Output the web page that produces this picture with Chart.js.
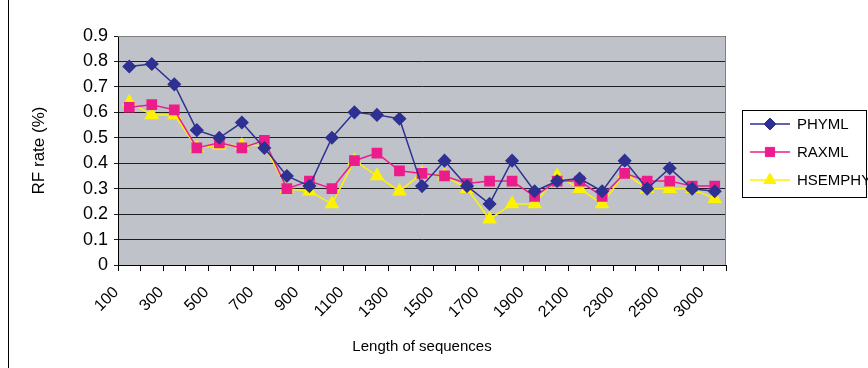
<!DOCTYPE html>
<html>
<head>
<meta charset="utf-8">
<script src="https://cdn.jsdelivr.net/npm/chart.js@4"></script>
<style>
  html, body { margin: 0; padding: 0; background: #fff; }
  #wrap { width: 868px; height: 368px; }
</style>
</head>
<body>
<div id="wrap"><canvas id="rfChart" width="868" height="368"></canvas></div>
<script>
// sequence lengths (x categories); only every other one is labelled
const lengths = ['100', '200', '300', '400', '500', '600', '700', '800', '900', '1000',
  '1100', '1200', '1300', '1400', '1500', '1600', '1700', '1800', '1900', '2000',
  '2100', '2200', '2300', '2400', '2500', '2750', '3000'];
const phyml = [0.78, 0.79, 0.71, 0.53, 0.50, 0.56, 0.46, 0.35, 0.31, 0.50, 0.60, 0.59, 0.575, 0.31,
  0.41, 0.31, 0.24, 0.41, 0.29, 0.33, 0.34, 0.29, 0.41, 0.30, 0.38, 0.30, 0.29];
const raxml = [0.62, 0.63, 0.61, 0.46, 0.48, 0.46, 0.49, 0.30, 0.33, 0.30, 0.41, 0.44, 0.37, 0.36,
  0.35, 0.32, 0.33, 0.33, 0.27, 0.33, 0.33, 0.27, 0.36, 0.33, 0.33, 0.31, 0.31];
const hsemphy = [0.64, 0.59, 0.59, 0.46, 0.47, 0.47, 0.47, 0.30, 0.29, 0.24, 0.41, 0.35, 0.29, 0.36,
  0.35, 0.30, 0.18, 0.24, 0.24, 0.35, 0.30, 0.24, 0.36, 0.30, 0.30, 0.30, 0.26];
const yTicks = ['0', '0.1', '0.2', '0.3', '0.4', '0.5', '0.6', '0.7', '0.8', '0.9'];

const FONT = '"Liberation Sans", Arial, sans-serif';

// gray plot area, outer frame line and top/right border
const plotBackground = {
  id: 'plotBackground',
  beforeDraw(chart) {
    const { ctx, chartArea: a } = chart;
    ctx.save();
    ctx.fillStyle = '#fff';
    ctx.fillRect(0, 0, chart.width, chart.height);
    ctx.fillStyle = '#000';
    ctx.fillRect(8, 0, 1, chart.height);
    ctx.fillStyle = '#BFC2C8';
    ctx.fillRect(a.left, a.top, a.right - a.left, a.bottom - a.top);
    ctx.restore();
  },
  beforeDatasetsDraw(chart) {
    const { ctx, chartArea: a } = chart;
    ctx.save();
    ctx.strokeStyle = '#808080';
    ctx.lineWidth = 1;
    ctx.beginPath();
    ctx.moveTo(a.left, a.top + 0.5);
    ctx.lineTo(a.right - 0.5, a.top + 0.5);
    ctx.lineTo(a.right - 0.5, a.bottom);
    ctx.stroke();
    ctx.restore();
  }
};

// boxed legend with line + marker samples
const boxLegend = {
  id: 'boxLegend',
  afterDraw(chart) {
    const ctx = chart.ctx;
    ctx.save();
    ctx.strokeStyle = '#000';
    ctx.lineWidth = 1;
    ctx.strokeRect(742.5, 110.5, 124, 87);
    ctx.font = '15px ' + FONT;
    ctx.textBaseline = 'middle';
    chart.data.datasets.forEach((ds, i) => {
      const y = 124 + i * 28;
      ctx.strokeStyle = ds.borderColor;
      ctx.lineWidth = 1.5;
      ctx.beginPath();
      ctx.moveTo(750, y);
      ctx.lineTo(790, y);
      ctx.stroke();
      ctx.fillStyle = ds.pointBackgroundColor;
      ctx.strokeStyle = ds.pointBorderColor;
      ctx.lineWidth = 1;
      Chart.helpers.drawPoint(ctx, { pointStyle: ds.pointStyle, radius: ds.pointRadius, borderWidth: 1, rotation: 0 }, 770, y);
      ctx.fillStyle = '#000';
      ctx.fillText(ds.label, 797, y + 1);
    });
    ctx.restore();
  }
};

function series(label, data, color, style, radius) {
  return {
    label: label,
    data: data,
    borderColor: color,
    backgroundColor: color,
    pointBackgroundColor: color,
    pointBorderColor: color,
    borderWidth: 1.5,
    pointStyle: style,
    pointRadius: radius,
    pointHoverRadius: radius,
    tension: 0
  };
}

new Chart(document.getElementById('rfChart').getContext('2d'), {
  type: 'line',
  data: {
    labels: lengths,
    datasets: [
      series('PHYML', phyml, '#2E3192', 'rectRot', 6),
      series('RAXML', raxml, '#EC1C8C', 'rect', 6.5),
      series('HSEMPHY', hsemphy, '#FFF200', 'triangle', 7)
    ]
  },
  plugins: [plotBackground, boxLegend],
  options: {
    responsive: false,
    animation: false,
    devicePixelRatio: 1,
    layout: { padding: { left: 8, right: 142, top: 36, bottom: 0 } },
    plugins: {
      legend: { display: false },
      tooltip: { enabled: false }
    },
    scales: {
      x: {
        offset: true,
        afterFit: s => { s.height = 103; },
        border: { color: '#000', width: 1 },
        grid: { drawOnChartArea: false, offset: true, color: '#000', tickLength: 6 },
        ticks: {
          autoSkip: false,
          maxRotation: 45,
          minRotation: 45,
          padding: 12,
          labelOffset: -13,
          color: '#000',
          font: { family: FONT, size: 16 },
          callback: (v, i) => (i % 2 === 0 ? lengths[i] : '')
        },
        title: {
          display: true,
          text: 'Length of sequences',
          color: '#000',
          font: { family: FONT, size: 15 },
          padding: { top: 0, bottom: 12 }
        }
      },
      y: {
        min: 0,
        max: 0.9,
        afterFit: s => { s.width = 110; },
        afterBuildTicks: s => { s.ticks = yTicks.map(t => ({ value: parseFloat(t) })); },
        border: { color: '#000', width: 1 },
        grid: { color: '#1E1E1E', lineWidth: 1, tickLength: 4 },
        ticks: {
          padding: 6,
          color: '#000',
          font: { family: FONT, size: 18 },
          callback: (v, i) => yTicks[i]
        },
        title: {
          display: true,
          text: 'RF rate (%)',
          color: '#000',
          font: { family: FONT, size: 17 },
          padding: { top: 21, bottom: 0 }
        }
      }
    }
  }
});
</script>
</body>
</html>
